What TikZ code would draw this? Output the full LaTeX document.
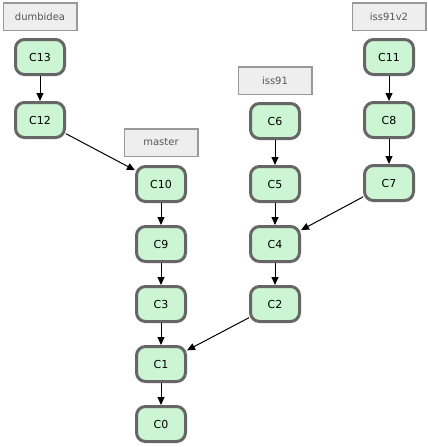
\documentclass[tikz,border=0pt]{standalone}
\usepackage{fontspec}
\setmainfont{DejaVu Sans}
\usetikzlibrary{positioning,arrows.meta}
\definecolor{commitfill}{HTML}{CCF5D4}
\definecolor{commitline}{HTML}{666666}
\definecolor{branchfill}{HTML}{EEEEEE}
\definecolor{branchline}{HTML}{999999}
\definecolor{branchtext}{HTML}{555555}

\begin{document}
\begin{tikzpicture}[x=1pt,y=-1pt,
    commit/.style={rectangle,draw=commitline,fill=commitfill,line width=3pt,
        rounded corners=9pt,minimum width=49pt,minimum height=35pt,
        inner sep=0pt,font=\fontsize{11}{13}\selectfont},
    branch/.style={rectangle,draw=branchline,fill=branchfill,line width=1.5pt,
        minimum width=73.5pt,minimum height=27.5pt,inner sep=0pt,
        text=branchtext,font=\fontsize{10}{12}\selectfont},
    >={Triangle[length=8pt,width=7pt]}]
    \useasboundingbox[fill=white] (0,0) rectangle (428,447);

    % Main line
    \node[commit] (c10) at (161,184) {C10};
    \node[commit] (c9) [below=22pt of c10] {C9};
    \node[commit] (c3) [below=22pt of c9] {C3};
    \node[commit] (c1) [below=22pt of c3] {C1};
    \node[commit] (c0) [below=22pt of c1] {C0};

    % Side branches
    \node[commit] (c13) at (40,57) {C13};
    \node[commit] (c12) [below=25pt of c13] {C12};
    \node[commit] (c6) at (275,121) {C6};
    \node[commit] (c5) [below=25pt of c6] {C5};
    \node[commit] (c4) at (c5 |- c9) {C4};
    \node[commit] (c2) at (c5 |- c3) {C2};
    \node[commit] (c11) at (389,57) {C11};
    \node[commit] (c8) [below=25pt of c11] {C8};
    \node[commit] (c7) [below=25pt of c8] {C7};

    % Branch labels
    \node[branch] (l_dumbidea) [above=7pt of c13] {dumbidea};
    \node[branch] (l_master) [above=8pt of c10] {master};
    \node[branch] (l_iss91) [above=7pt of c6] {iss91};
    \node[branch] (l_iss91v2) [above=7pt of c11] {iss91v2};

    \begin{scope}[line width=1pt]
    \draw[->] (c13) -- (c12);
    \draw[->] (c12) -- (c10);
    \draw[->] (c10) -- (c9);
    \draw[->] (c9) -- (c3);
    \draw[->] (c3) -- (c1);
    \draw[->] (c1) -- (c0);
    \draw[->] (c6) -- (c5);
    \draw[->] (c5) -- (c4);
    \draw[->] (c4) -- (c2);
    \draw[->] (c2) -- (c1);
    \draw[->] (c11) -- (c8);
    \draw[->] (c8) -- (c7);
    \draw[->] (c7) -- (c4);
    \end{scope}
\end{tikzpicture}
\end{document}
